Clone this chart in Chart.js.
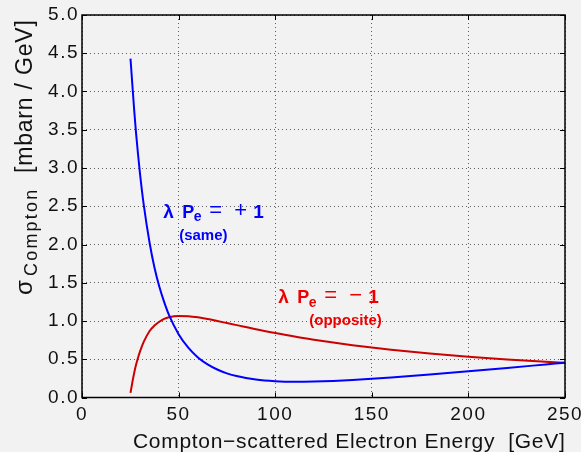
<!DOCTYPE html>
<html>
<head>
<meta charset="utf-8">
<script src="https://cdn.jsdelivr.net/npm/chart.js@4.4.1/dist/chart.umd.min.js"></script>
<style>
  html, body { margin: 0; padding: 0; background: #f2f2f2; }
  canvas { display: block; }
</style>
</head>
<body>
<canvas id="canvas" width="581" height="452"></canvas>
<script>
// scattered electron energy [GeV]
const energy = [25.1, 26, 27, 28, 29, 30, 32, 35, 37.5, 40, 42.5, 45, 50, 55, 60, 65, 70, 75, 80, 90, 100, 110, 120, 130, 140, 160, 180, 200, 220, 240, 250];
// lambda Pe = +1 (same)
const sigmaSame = [4.43, 4.11, 3.76, 3.45, 3.18, 2.93, 2.51, 2.02, 1.70, 1.45, 1.25, 1.08, 0.828, 0.651, 0.524, 0.433, 0.366, 0.316, 0.280, 0.234, 0.212, 0.205, 0.208, 0.216, 0.228, 0.261, 0.30, 0.342, 0.386, 0.432, 0.455];
// lambda Pe = -1 (opposite)
const sigmaOpposite = [0.06, 0.19, 0.32, 0.43, 0.52, 0.60, 0.73, 0.87, 0.94, 0.99, 1.028, 1.05, 1.066, 1.063, 1.048, 1.026, 1.0, 0.973, 0.946, 0.892, 0.843, 0.797, 0.756, 0.718, 0.684, 0.625, 0.575, 0.533, 0.496, 0.466, 0.455];

const xTicks = [0, 50, 100, 150, 200, 250];
const yTicks = [0, 0.5, 1, 1.5, 2, 2.5, 3, 3.5, 4, 4.5, 5];

const FONT = "'Liberation Sans', Arial, Helvetica, sans-serif";

function txt(ctx, s, x, y, size, bold, color, spacing) {
  ctx.font = (bold ? 'bold ' : '') + size + 'px ' + FONT;
  ctx.fillStyle = color;
  ctx.letterSpacing = (spacing || 0) + 'px';
  ctx.fillText(s, x, y);
}

// polarisation label: lambda P_e = ...
function polLabel(ctx, x, y, sign, note, noteX, color) {
  ctx.textAlign = 'left';
  ctx.textBaseline = 'alphabetic';
  txt(ctx, 'λ', x, y, 19, true, color);
  txt(ctx, 'P', x + 19, y, 18, true, color);
  txt(ctx, 'e', x + 30.5, y + 3.5, 14, true, color);
  txt(ctx, '=', x + 46, y - 1, 22, false, color);
  txt(ctx, sign, x + 71, y - 1, 22, false, color);
  txt(ctx, '1', x + 90, y, 19, true, color);
  txt(ctx, note, x + noteX, y + 22, 15, true, color);
}

const frame = {
  id: 'frame',
  beforeDraw(chart) {
    chart.ctx.letterSpacing = '1.5px';
  },
  afterDatasetsDraw(chart) {
    const ctx = chart.ctx;
    const a = chart.chartArea;
    const xs = chart.scales.x, ys = chart.scales.y;
    ctx.save();
    ctx.strokeStyle = '#000';
    ctx.lineWidth = 1.5;
    ctx.strokeRect(a.left, a.top, a.right - a.left, a.bottom - a.top);
    ctx.lineWidth = 1;
    ctx.beginPath();
    xTicks.forEach(v => {
      const px = Math.round(xs.getPixelForValue(v)) + 0.5;
      ctx.moveTo(px, a.bottom); ctx.lineTo(px, a.bottom - 5);
      ctx.moveTo(px, a.top); ctx.lineTo(px, a.top + 5);
    });
    yTicks.forEach(v => {
      const py = Math.round(ys.getPixelForValue(v)) + 0.5;
      ctx.moveTo(a.left, py); ctx.lineTo(a.left + 5, py);
      ctx.moveTo(a.right, py); ctx.lineTo(a.right - 5, py);
    });
    ctx.stroke();

    polLabel(ctx, xs.getPixelForValue(42), ys.getPixelForValue(2.35), '+', '(same)', 16, '#0000ff');
    polLabel(ctx, xs.getPixelForValue(101.6), ys.getPixelForValue(1.235), '\u2212', '(opposite)', 31, '#ee0000');

    // axis titles
    ctx.textAlign = 'left';
    ctx.textBaseline = 'alphabetic';
    txt(ctx, 'Compton\u2212scattered Electron Energy  [GeV]', 133, 448, 21, false, '#111', 0.7);

    ctx.translate(31.7, 295);
    ctx.rotate(-Math.PI / 2);
    txt(ctx, 'σ', 0, 0, 24, false, '#111');
    txt(ctx, 'Compton', 19, 5.3, 18, false, '#111', 2.2);
    txt(ctx, '[mbarn / GeV]', 122, 0, 23, false, '#111', 0.8);
    ctx.restore();
  }
};

const gridOpts = {
  color: 'rgba(0,0,0,0.6)',
  lineWidth: 1,
  drawTicks: false
};

new Chart(document.getElementById('canvas').getContext('2d'), {
  type: 'line',
  data: {
    datasets: [
      {
        label: 'same',
        data: energy.map((e, i) => ({ x: e, y: sigmaSame[i] })),
        borderColor: '#0000ff',
        borderWidth: 2,
        pointRadius: 0,
        cubicInterpolationMode: 'monotone',
        fill: false
      },
      {
        label: 'opposite',
        data: energy.map((e, i) => ({ x: e, y: sigmaOpposite[i] })),
        borderColor: '#cc0000',
        borderWidth: 2,
        pointRadius: 0,
        cubicInterpolationMode: 'monotone',
        fill: false
      }
    ]
  },
  options: {
    responsive: false,
    animation: false,
    events: [],
    layout: { padding: { top: 15, right: 16, left: 0, bottom: 0 } },
    plugins: { legend: { display: false }, tooltip: { enabled: false } },
    scales: {
      x: {
        type: 'linear',
        min: 0, max: 250,
        afterBuildTicks: s => { s.ticks = xTicks.map(v => ({ value: v })); },
        afterFit: s => { s.height = 54.5; s.paddingLeft = 0; s.paddingRight = 0; },
        grid: gridOpts,
        border: { display: false, dash: [1, 3] },
        ticks: { color: '#111', padding: 6, maxRotation: 0, font: { family: FONT, size: 19 } }
      },
      y: {
        min: 0, max: 5,
        afterBuildTicks: s => { s.ticks = yTicks.map(v => ({ value: v })); },
        afterFit: s => { s.width = 82; s.paddingTop = 0; s.paddingBottom = 0; },
        grid: gridOpts,
        border: { display: false, dash: [1, 3] },
        ticks: { color: '#111', padding: 3, font: { family: FONT, size: 19 }, callback: v => v.toFixed(1) }
      }
    }
  },
  plugins: [frame]
});
</script>
</body>
</html>
